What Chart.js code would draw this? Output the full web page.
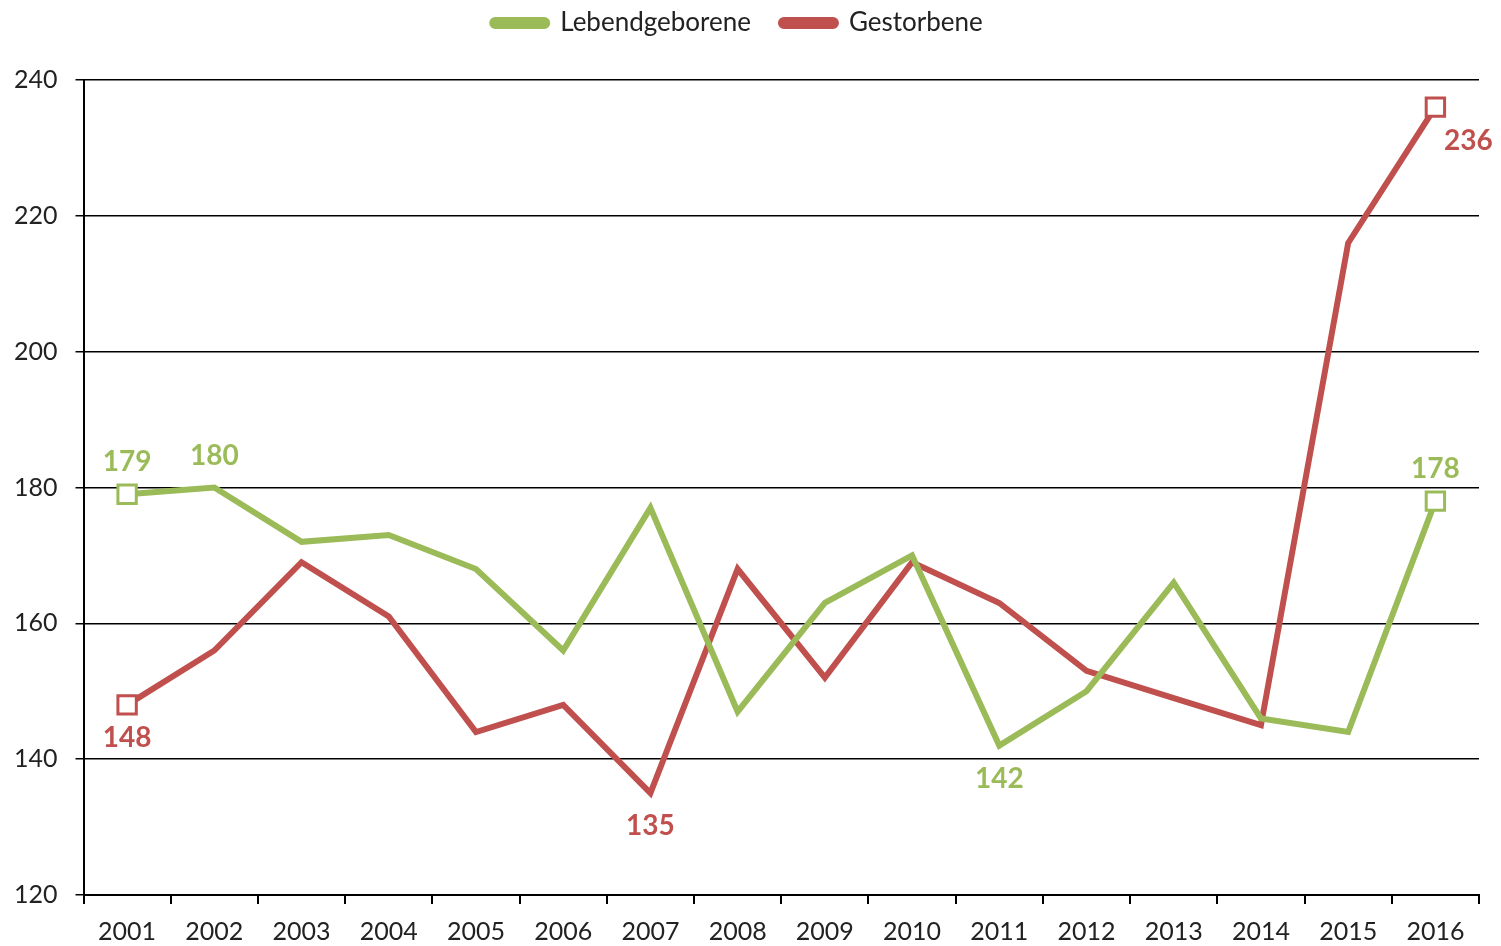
<!DOCTYPE html>
<html>
<head>
<meta charset="utf-8">
<script src="https://cdn.jsdelivr.net/npm/chart.js@4/dist/chart.umd.min.js"></script>
<style>
  html, body { margin: 0; padding: 0; background: #fff; }
  #wrap { width: 1501px; height: 946px; }
</style>
</head>
<body>
<div id="wrap"><canvas id="chart"></canvas></div>
<script>
const years = ['2001', '2002', '2003', '2004', '2005', '2006', '2007', '2008',
  '2009', '2010', '2011', '2012', '2013', '2014', '2015', '2016'];
const births = [179, 180, 172, 173, 168, 156, 177, 147, 163, 170, 142, 150, 166, 146, 144, 178];
const deaths = [148, 156, 169, 161, 144, 148, 135, 168, 152, 169, 163, 153, 149, 145, 216, 236];
// which points get a value label, and where
const birthLabels = { 0: 'above', 1: 'above', 10: 'below', 15: 'above' };
const deathLabels = { 0: 'below', 6: 'below', 15: 'right' };

const green = '#9BBB59';
const red = '#C0504D';
const fontFamily = 'Lato, "Open Sans", sans-serif';

function edgeMarker(ctx) {
  const i = ctx.dataIndex;
  return (i === 0 || i === years.length - 1) ? 13 : 0;
}

// push the plot down below the legend
const legendGap = {
  id: 'legendGap',
  beforeInit(chart) {
    const fit = chart.legend.fit;
    chart.legend.fit = function () {
      fit.bind(chart.legend)();
      this.height += 34;
    };
  }
};

const valueLabels = {
  id: 'valueLabels',
  afterDatasetsDraw(chart) {
    const c = chart.ctx;
    c.save();
    c.font = 'bold 28px ' + fontFamily;
    c.textAlign = 'center';
    c.textBaseline = 'middle';
    [birthLabels, deathLabels].forEach((labels, di) => {
      const meta = chart.getDatasetMeta(di);
      const data = chart.data.datasets[di].data;
      c.fillStyle = chart.data.datasets[di].borderColor;
      Object.keys(labels).forEach(k => {
        const pt = meta.data[k];
        const pos = labels[k];
        let x = pt.x, y = pt.y;
        if (pos === 'above') y -= 32;
        else if (pos === 'below') y += 33;
        else { x += 33; y += 34; }
        c.fillText(String(data[k]), x, y);
      });
    });
    c.restore();
  }
};

new Chart(document.getElementById('chart'), {
  type: 'line',
  data: {
    labels: years,
    datasets: [
      {
        label: 'Lebendgeborene',
        data: births,
        borderColor: green,
        backgroundColor: green,
        borderWidth: 6,
        tension: 0,
        pointStyle: 'rect',
        pointRadius: edgeMarker,
        pointBackgroundColor: '#fff',
        pointBorderColor: green,
        pointBorderWidth: 3
      },
      {
        label: 'Gestorbene',
        data: deaths,
        borderColor: red,
        backgroundColor: red,
        borderWidth: 6,
        tension: 0,
        pointStyle: 'rect',
        pointRadius: edgeMarker,
        pointBackgroundColor: '#fff',
        pointBorderColor: red,
        pointBorderWidth: 3
      }
    ]
  },
  options: {
    responsive: true,
    maintainAspectRatio: false,
    animation: false,
    events: [],
    layout: { padding: { left: -4, right: 22, top: -20, bottom: -14 } },
    plugins: {
      tooltip: { enabled: false },
      legend: {
        position: 'top',
        labels: {
          boxWidth: 55,
          boxHeight: 6,
          useBorderRadius: true,
          borderRadius: 3,
          color: '#222',
          padding: 30,
          font: { family: fontFamily, size: 26 }
        }
      }
    },
    scales: {
      x: {
        offset: true,
        grid: {
          offset: true,
          drawOnChartArea: false,
          drawTicks: true,
          tickLength: 9,
          color: '#000',
          lineWidth: 2
        },
        border: { color: '#000', width: 2 },
        ticks: {
          color: '#222',
          padding: 13,
          maxRotation: 0,
          font: { family: fontFamily, size: 25 }
        }
      },
      y: {
        min: 120,
        max: 240,
        ticks: {
          stepSize: 20,
          color: '#222',
          padding: 18,
          font: { family: fontFamily, size: 25 }
        },
        grid: {
          color: '#000',
          lineWidth: 1.5,
          tickLength: 8
        },
        border: { color: '#000', width: 2 }
      }
    }
  },
  plugins: [legendGap, valueLabels]
});
</script>
</body>
</html>
